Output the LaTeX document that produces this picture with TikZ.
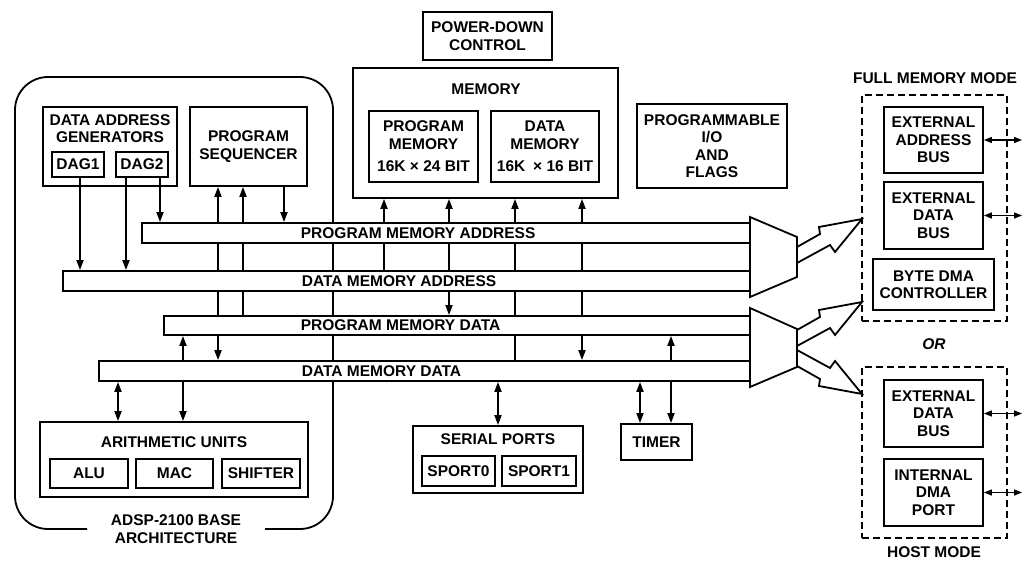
\documentclass[tikz,border=0pt]{standalone}
\usepackage{fontspec}
\setmainfont{Liberation Sans}
\usetikzlibrary{arrows.meta}
\pgfdeclarelayer{background}
\pgfsetlayers{background,main}
\begin{document}
\begin{tikzpicture}[x=1pt,y=-1pt,
  font=\fontsize{15.5}{17.5}\selectfont\bfseries,
  line width=1.8pt,
  >={Triangle[length=10pt,width=7pt]},
  every node/.style={align=center},
  blk/.style={draw,inner sep=0pt},
  bus/.style={draw,fill=white,inner sep=0pt,minimum height=20},
  buslbl/.style={anchor=west,inner sep=0pt},
  dbox/.style={draw,dash pattern=on 7pt off 4pt,line width=1.4pt,inner sep=0pt},
  fat/.style={draw,fill=white,line join=miter},
  io/.style={line width=1.4pt,{Triangle[length=8pt,width=6pt]}-{Triangle[length=8pt,width=6pt]}}]
\useasboundingbox (0,0) rectangle (1024,561);
\node[blk,minimum width=134,minimum height=79] (dag) at (110,146.5) {};
\node (dagt) at (110,128.5) {DATA ADDRESS\\GENERATORS};
\node[blk,minimum width=52,minimum height=25] (dagone) at (78,164.5) {DAG1};
\node[blk,minimum width=52,minimum height=25] (dagtwo) at (142,164.5) {DAG2};
\node[blk,minimum width=117,minimum height=79] (ps) at (248.5,146.5) {PROGRAM\\SEQUENCER};
\node[blk,minimum width=129,minimum height=48] (pdc) at (487.5,36) {POWER-DOWN\\CONTROL};
\node[blk,minimum width=265,minimum height=130] (mem) at (485.5,133) {};
\node (memt) at (486,89) {MEMORY};
\node[blk,minimum width=109,minimum height=71] (pm) at (423.5,146.5) {PROGRAM\\MEMORY\\[5pt]16K × 24 BIT};
\node[blk,minimum width=108,minimum height=71] (dm) at (545,146.5) {DATA\\MEMORY\\[5pt]16K\enspace× 16 BIT};
\node[blk,minimum width=150,minimum height=84] (pio) at (712,146) {PROGRAMMABLE\\I/O\\AND\\FLAGS};
\node[bus,minimum width=608] (pma) at (446,233) {};
\node[bus,minimum width=687] (dma) at (406.5,281) {};
\node[bus,minimum width=586,minimum height=19] (pmd) at (457,325.5) {};
\node[bus,minimum width=651] (dmd) at (424.5,371) {};
\node[buslbl] (pmat) at (300,233) {PROGRAM MEMORY ADDRESS};
\node[buslbl] (dmat) at (301,281) {DATA MEMORY ADDRESS};
\node[buslbl] (pmdt) at (300,325.5) {PROGRAM MEMORY DATA};
\node[buslbl] (dmdt) at (301,371) {DATA MEMORY DATA};
\node[blk,minimum width=268,minimum height=75] (arith) at (174,459.5) {};
\node (aritht) at (174,442) {ARITHMETIC UNITS};
\node[blk,minimum width=78,minimum height=29] (alu) at (89,473.5) {ALU};
\node[blk,minimum width=77,minimum height=29] (mac) at (174.5,473.5) {MAC};
\node[blk,minimum width=78,minimum height=29] (shf) at (261,473.5) {SHIFTER};
\node (base) at (176,529) {ADSP-2100 BASE\\ARCHITECTURE};
\node[blk,minimum width=170,minimum height=67] (sp) at (498,459.5) {};
\node (spt) at (498,439) {SERIAL PORTS};
\node[blk,minimum width=73,minimum height=30] (spzero) at (458.5,471) {SPORT0};
\node[blk,minimum width=74,minimum height=30] (spone) at (539,471) {SPORT1};
\node[blk,minimum width=71,minimum height=36] (tmr) at (656.5,442) {TIMER};
\node[dbox,minimum width=145,minimum height=226] (fmm) at (934.5,208) {};
\node (fmmt) at (935,78) {FULL MEMORY MODE};
\node[blk,minimum width=99,minimum height=66] (eab) at (933.5,140) {EXTERNAL\\ADDRESS\\BUS};
\node[blk,minimum width=99,minimum height=67] (edb) at (933.5,215.5) {EXTERNAL\\DATA\\BUS};
\node[blk,minimum width=121,minimum height=51] (bdma) at (933.5,284.5) {BYTE DMA\\CONTROLLER};
\node[font=\fontsize{15.5}{17.5}\selectfont\bfseries\itshape] (ortxt) at (934,344) {OR};
\node[dbox,minimum width=145,minimum height=171] (hm) at (934.5,452.5) {};
\node[blk,minimum width=99,minimum height=67] (hedb) at (933.5,413.5) {EXTERNAL\\DATA\\BUS};
\node[blk,minimum width=99,minimum height=67] (idma) at (933.5,492.5) {INTERNAL\\DMA\\PORT};
\node (hmt) at (934,552.5) {HOST MODE};
\coordinate (rim) at (1022,0);
\draw[fat] (797,247) -- (820,234) -- (819,227) -- (862,219) -- (835,252) -- (830,245) -- (797,263);
\draw[fat] (797,330) -- (820,317) -- (819,310) -- (862,302) -- (835,335) -- (830,328) -- (797,346);
\draw[fat] (797,366) -- (820,379) -- (819,386) -- (862,394) -- (835,361) -- (830,368) -- (797,350);
\draw[fat] (750,217) -- (797,237) -- (797,277) -- (750,297) -- cycle;
\draw[fat] (750,308) -- (797,329) -- (797,367) -- (750,387) -- cycle;
\draw[io] (eab.east) -- (eab.east -| rim);
\draw[io] (edb.east) -- (edb.east -| rim);
\draw[io] (hedb.east) -- (hedb.east -| rim);
\draw[io] (idma.east) -- (idma.east -| rim);
\begin{pgfonlayer}{background}
\begin{scope}[line width=1.8pt]
\draw[rounded corners=33] (87,529) -- (15,529) -- (15,77) -- (333,77) -- (333,529) -- (265,529);
\draw[->] (dagone.south -| 80,0) -- (dma.north -| 80,0);
\draw[->] (dagtwo.south -| 126,0) -- (dma.north -| 126,0);
\draw[->] (dagtwo.south -| 160,0) -- (pma.north -| 160,0);
\draw[<->] (ps.south -| 218,0) -- (dmd.north -| 218,0);
\draw[<-] (ps.south -| 243,0) -- (pmd.north -| 243,0);
\draw[->] (ps.south -| 284,0) -- (pma.north -| 284,0);
\draw[<->] (pmd.south -| 183,0) -- (arith.north -| 183,0);
\draw[<->] (dmd.south -| 118,0) -- (arith.north -| 118,0);
\draw[<-] (mem.south -| 384,0) -- (dma.north -| 384,0);
\draw[<->] (mem.south -| 449,0) -- (pmd.north -| 449,0);
\draw[<-] (mem.south -| 515,0) -- (dmd.north -| 515,0);
\draw[<->] (mem.south -| 582,0) -- (dmd.north -| 582,0);
\draw[<->] (dmd.south -| 498,0) -- (sp.north -| 498,0);
\draw[<->] (dmd.south -| 640,0) -- (tmr.north -| 640,0);
\draw[<->] (pmd.south -| 671,0) -- (tmr.north -| 671,0);
\end{scope}
\end{pgfonlayer}
\end{tikzpicture}
\end{document}
